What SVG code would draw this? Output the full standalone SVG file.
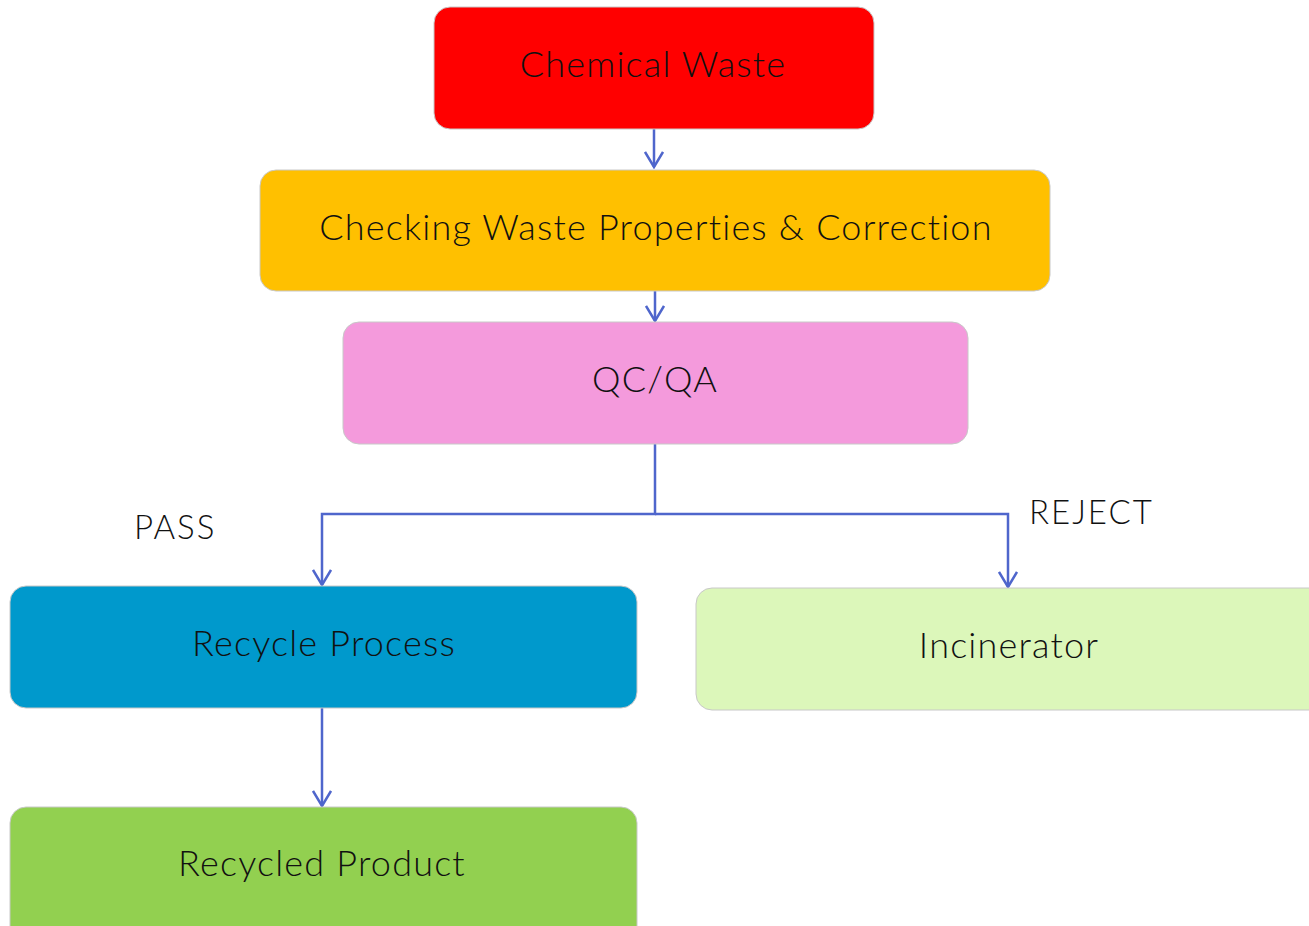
<svg xmlns="http://www.w3.org/2000/svg" width="1309" height="926" viewBox="0 0 1309 926">
  <style>
    .box { stroke: #c8c8c8; stroke-width: 1; }
    .lbl { font-family: "Lato", "Liberation Sans", sans-serif; font-weight: 300; font-size: 36px; letter-spacing: 1.2px; fill: #111; text-anchor: middle; }
    .tag { font-family: "Lato", "Liberation Sans", sans-serif; font-weight: 300; font-size: 33px; letter-spacing: 2px; fill: #111; }
    .wire { fill: none; stroke: #4f66cc; stroke-width: 2.5; }
  </style>
  <defs>
    <marker id="arrow" viewBox="0 0 20 20" refX="18" refY="10" markerWidth="20" markerHeight="20" markerUnits="userSpaceOnUse" orient="auto">
      <path d="M3,1 L18,10 L3,19" fill="none" stroke="#4f66cc" stroke-width="2.5"/>
    </marker>
  </defs>
  <rect width="1309" height="926" fill="#ffffff"/>

  <g id="connectors">
    <path class="wire" d="M654,129 V167" marker-end="url(#arrow)"/>
    <path class="wire" d="M655,291 V321" marker-end="url(#arrow)"/>
    <path class="wire" d="M655,444 V514 H322 V585" marker-end="url(#arrow)"/>
    <path class="wire" d="M655,514 H1008 V587" marker-end="url(#arrow)"/>
    <path class="wire" d="M322,708 V806" marker-end="url(#arrow)"/>
  </g>

  <g id="chemical-waste">
    <rect class="box" x="434" y="7" width="440" height="122" rx="16" fill="#ff0000"/>
    <text class="lbl" x="653" y="77">Chemical Waste</text>
  </g>
  <g id="checking">
    <rect class="box" x="260" y="170" width="790" height="121" rx="16" fill="#ffc000"/>
    <text class="lbl" x="656" y="240">Checking Waste Properties &amp; Correction</text>
  </g>
  <g id="qcqa">
    <rect class="box" x="343" y="322" width="625" height="122" rx="16" fill="#f49adc"/>
    <text class="lbl" x="655" y="392">QC/QA</text>
  </g>
  <g id="recycle-process">
    <rect class="box" x="10" y="586" width="627" height="122" rx="16" fill="#0099cc"/>
    <text class="lbl" x="324" y="656">Recycle Process</text>
  </g>
  <g id="incinerator">
    <rect class="box" x="696" y="588" width="630" height="122" rx="16" fill="#dcf7ba"/>
    <text class="lbl" x="1009" y="658">Incinerator</text>
  </g>
  <g id="recycled-product">
    <rect class="box" x="10" y="807" width="627" height="140" rx="16" fill="#92d050"/>
    <text class="lbl" x="322" y="876">Recycled Product</text>
  </g>

  <g id="labels">
    <text class="tag" x="134" y="539">PASS</text>
    <text class="tag" x="1029" y="524">REJECT</text>
  </g>
</svg>
